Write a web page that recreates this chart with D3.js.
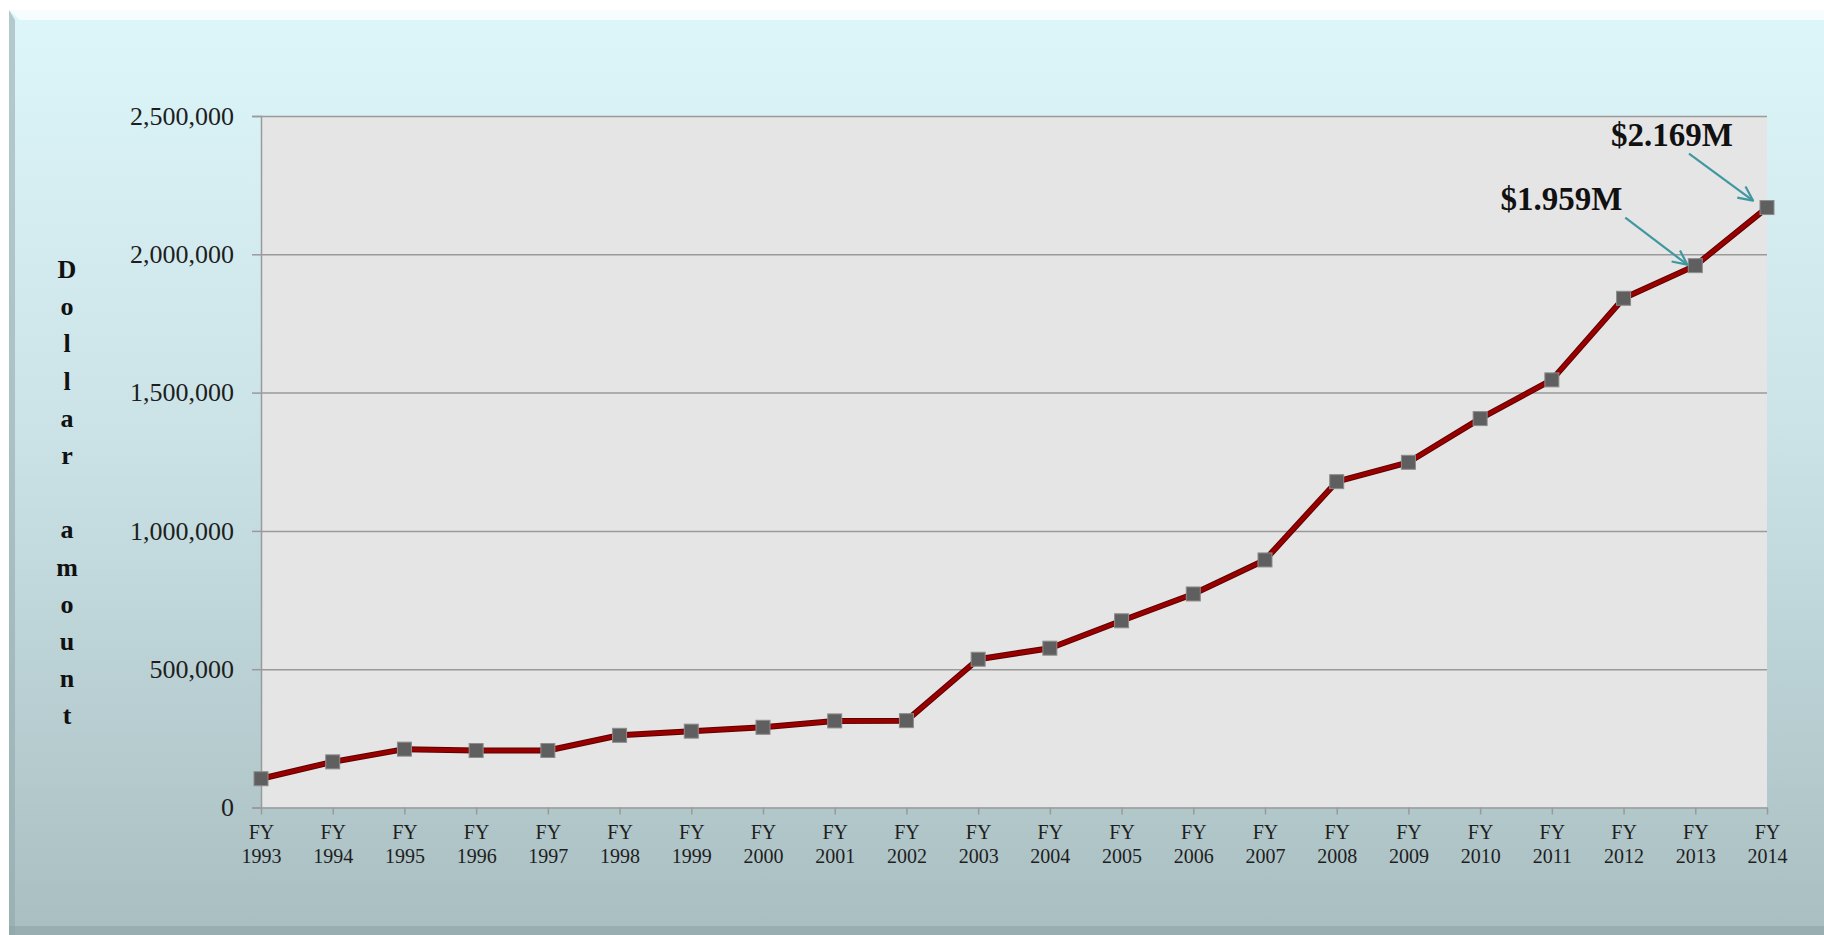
<!DOCTYPE html>
<html>
<head>
<meta charset="utf-8">
<script src="https://cdn.jsdelivr.net/npm/d3@7"></script>
<style>
    html, body { margin: 0; padding: 0; background: #ffffff; }
    #chart { width: 1824px; height: 935px; }
    text { font-family: "Liberation Serif", "Times New Roman", serif; }
</style>
</head>
<body>
<div id="chart"></div>
<script>
// =============================================================
// DATA

let years = [ '1993', '1994', '1995', '1996', '1997', '1998', '1999', '2000',
              '2001', '2002', '2003', '2004', '2005', '2006', '2007', '2008',
              '2009', '2010', '2011', '2012', '2013', '2014' ];
let amounts = [ 104000, 165000, 211000, 206000, 206000, 261000, 276000, 290000,
                313000, 314000, 536000, 576000, 675000, 772000, 895000, 1178000,
                1248000, 1406000, 1546000, 1841000, 1959000, 2169000 ];
let y_ticks = [ 0, 500000, 1000000, 1500000, 2000000, 2500000 ];
let callouts = [ { year: '2013', label: '$1.959M' },
                 { year: '2014', label: '$2.169M' } ];
let y_title = 'Dollar amount';

// =============================================================
// LAYOUT

let width = 1824, height = 935;
let plot = { left: 261, right: 1767, top: 116, bottom: 807.5 };

let svg = d3.select('#chart')
            .append('svg')
            .attr('width', width)
            .attr('height', height);

let defs = svg.append('defs');

let bg = defs.append('linearGradient')
             .attr('id', 'bg')
             .attr('x1', 0).attr('y1', 0)
             .attr('x2', 0).attr('y2', 1);
bg.append('stop').attr('offset', '0%').attr('stop-color', '#ddf6f9');
bg.append('stop').attr('offset', '45%').attr('stop-color', '#cbe3e7');
bg.append('stop').attr('offset', '100%').attr('stop-color', '#a9bec1');

// card with a small bevel like the office "frame" style
svg.append('rect')
   .attr('x', 9).attr('y', 10)
   .attr('width', width - 9).attr('height', height - 10)
   .attr('fill', 'url(#bg)');

svg.append('polygon')      // top highlight
   .attr('points', '9,10 1824,10 1824,20 20,20')
   .attr('fill', '#ffffff')
   .attr('opacity', 0.75);

svg.append('polygon')      // left shade
   .attr('points', '9,10 15,20 15,935 9,935')
   .attr('fill', '#8fa6aa')
   .attr('opacity', 0.55);

svg.append('rect')         // bottom shade
   .attr('x', 9).attr('y', 926)
   .attr('width', width - 9).attr('height', 9)
   .attr('fill', '#8ea3a6')
   .attr('opacity', 0.6);

// =============================================================
// SCALES

let x_scale = d3.scalePoint()
                .domain( years )
                .range( [ plot.left, plot.right ] );

let y_scale = d3.scaleLinear()
                .domain( [ 0, 2500000 ] )
                .range( [ plot.bottom, plot.top ] );

// plot area
svg.append('rect')
   .attr('x', plot.left).attr('y', plot.top)
   .attr('width', plot.right - plot.left)
   .attr('height', plot.bottom - plot.top)
   .attr('fill', '#e5e5e5');

// gridlines
svg.append('g')
   .attr('transform', 'translate(' + plot.left + ',0)')
   .call( d3.axisLeft(y_scale)
            .tickValues( y_ticks.slice(1) )
            .tickSize( -(plot.right - plot.left) )
            .tickFormat('') )
   .call(g => g.select('.domain').remove())
   .call(g => g.selectAll('line')
                .attr('stroke', '#9a9a9a')
                .attr('stroke-width', 1.5));

// y axis
svg.append('g')
   .attr('class', 'y_axis')
   .attr('transform', 'translate(' + plot.left + ',0)')
   .call( d3.axisLeft(y_scale)
            .tickValues( y_ticks )
            .tickSize(9)
            .tickPadding(18)
            .tickFormat( d3.format(',') ) )
   .call(g => g.select('.domain')
                .attr('stroke', '#9a9a9a')
                .attr('stroke-width', 1.5))
   .call(g => g.selectAll('line')
                .attr('stroke', '#9a9a9a')
                .attr('stroke-width', 1.5))
   .call(g => g.selectAll('text')
                .attr('font-family', '"Liberation Serif", serif')
                .attr('font-size', 26)
                .attr('fill', '#1e1e1e'));

// x axis
let x_axis = svg.append('g')
   .attr('class', 'x_axis')
   .attr('transform', 'translate(0,' + plot.bottom + ')')
   .call( d3.axisBottom(x_scale)
            .tickSize(7)
            .tickSizeOuter(0) )
   .call(g => g.select('.domain')
                .attr('stroke', '#9a9a9a')
                .attr('stroke-width', 1.5))
   .call(g => g.selectAll('line')
                .attr('stroke', '#9a9a9a')
                .attr('stroke-width', 1.5));

// two line labels: FY / year
x_axis.selectAll('.tick text')
      .attr('font-family', '"Liberation Serif", serif')
      .attr('font-size', 20)
      .attr('fill', '#1e1e1e')
      .attr('y', 0)
      .attr('dy', 0)
      .text(null)
      .each(function (d) {
          let t = d3.select(this);
          t.append('tspan').attr('x', 0).attr('y', 31).text('FY');
          t.append('tspan').attr('x', 0).attr('y', 55).text(d);
      });

// y title, stacked letters
let title = svg.append('text')
               .attr('font-family', '"Liberation Serif", serif')
               .attr('font-weight', 'bold')
               .attr('font-size', 26)
               .attr('fill', '#111')
               .attr('text-anchor', 'middle');

y_title.split('').forEach(function (ch, i) {
    title.append('tspan')
         .attr('x', 67)
         .attr('y', 278 + i * 37.2)
         .text(ch === ' ' ? '\u00a0' : ch);
});

// =============================================================
// LINE + MARKERS

let line = d3.line()
             .x( (d, i) => x_scale( years[i] ) )
             .y( d => y_scale( d ) );

svg.append('path')
   .datum( amounts )
   .attr('d', line)
   .attr('fill', 'none')
   .attr('stroke', '#5e0000')
   .attr('stroke-width', 6)
   .attr('stroke-linejoin', 'round');

svg.append('path')
   .datum( amounts )
   .attr('d', line)
   .attr('fill', 'none')
   .attr('stroke', '#980000')
   .attr('stroke-width', 4)
   .attr('stroke-linejoin', 'round');

let msize = 14;
svg.selectAll('rect.marker')
   .data( amounts )
   .enter()
   .append('rect')
   .attr('class', 'marker')
   .attr('x', (d, i) => x_scale( years[i] ) - msize / 2)
   .attr('y', d => y_scale( d ) - msize / 2)
   .attr('width', msize)
   .attr('height', msize)
   .attr('fill', '#5f5f5f')
   .attr('stroke', '#8c8c8c')
   .attr('stroke-width', 1);

// =============================================================
// CALLOUTS

let arrow_colour = '#3f989f';

function drawCallout(c, arrow_start, arrow_tip, text_pos) {
// label + open arrow pointing at a data point
    let i = years.indexOf( c.year );
    let px = x_scale( c.year ), py = y_scale( amounts[i] );

    let x1 = px + arrow_start[0], y1 = py + arrow_start[1];
    let x2 = px + arrow_tip[0],   y2 = py + arrow_tip[1];

    svg.append('line')
       .attr('x1', x1).attr('y1', y1)
       .attr('x2', x2).attr('y2', y2)
       .attr('stroke', arrow_colour)
       .attr('stroke-width', 2.2);

    // arrow head
    let ang = Math.atan2(y2 - y1, x2 - x1);
    let len = 16, spread = 0.45;
    let head = [ [ x2 - len * Math.cos(ang - spread), y2 - len * Math.sin(ang - spread) ],
                 [ x2, y2 ],
                 [ x2 - len * Math.cos(ang + spread), y2 - len * Math.sin(ang + spread) ] ];
    svg.append('path')
       .attr('d', d3.line()(head))
       .attr('fill', 'none')
       .attr('stroke', arrow_colour)
       .attr('stroke-width', 2.2)
       .attr('stroke-linejoin', 'round');

    svg.append('text')
       .attr('x', px + text_pos[0])
       .attr('y', py + text_pos[1])
       .attr('text-anchor', 'end')
       .attr('font-family', '"Liberation Serif", serif')
       .attr('font-weight', 'bold')
       .attr('font-size', 33)
       .attr('fill', '#111')
       .text( c.label );
}

drawCallout( callouts[0], [ -70, -48 ], [ -8, -1 ], [ -73, -56 ] );
drawCallout( callouts[1], [ -78, -54 ], [ -14, -7 ], [ -34, -62 ] );
</script>
</body>
</html>
